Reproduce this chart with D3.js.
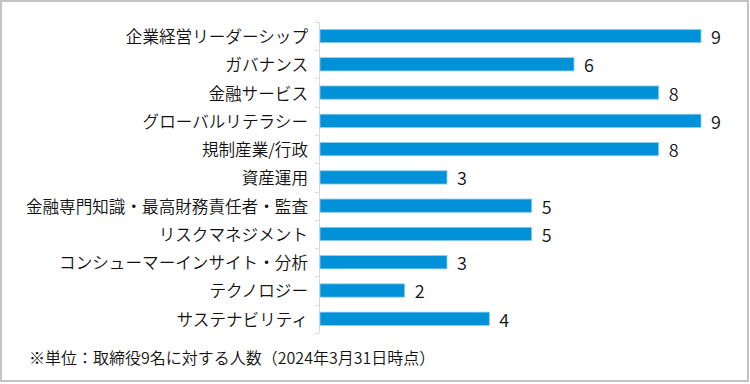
<!DOCTYPE html>
<html><head><meta charset="utf-8">
<script src="https://cdn.jsdelivr.net/npm/d3@7"></script>
<style>
html,body{margin:0;padding:0;background:#fff;}
svg{display:block;}
text{font-family:"Noto Sans CJK JP","Noto Sans",sans-serif;fill:#111;font-weight:350;}
</style></head><body>
<svg id="c" width="750" height="384"></svg>
<script>
const categories = ["企業経営リーダーシップ","ガバナンス","金融サービス","グローバルリテラシー","規制産業/行政","資産運用","金融専門知識・最高財務責任者・監査","リスクマネジメント","コンシューマーインサイト・分析","テクノロジー","サステナビリティ"];
const values = [9,6,8,9,8,3,5,5,3,2,4];
const footnote = "※単位：取締役9名に対する人数（2024年3月31日時点）";

const svg = d3.select("#c");
svg.append("rect").attr("x",1).attr("y",1).attr("width",747).attr("height",380)
  .attr("fill","#fff").attr("stroke","#c4c4c4").attr("stroke-width",2);

const x = d3.scaleLinear().domain([0,9]).range([320,701]);
const y = d3.scaleBand().domain(categories).range([21.9,332.9]).paddingInner(0.53).paddingOuter(0.265);
const step = y.step();

// axis line & ticks
svg.append("line").attr("x1",319.5).attr("x2",319.5).attr("y1",y.range()[0]).attr("y2",y.range()[1])
  .attr("stroke","#d9d9d9").attr("stroke-width",1);
const bounds = categories.map(c => y(c) - step*y.paddingInner()/2).concat([y.range()[1]]);
svg.selectAll("line.tick").data(bounds).join("line").attr("class","tick")
  .attr("x1",315).attr("x2",319.5).attr("y1",d=>Math.round(d)+0.5).attr("y2",d=>Math.round(d)+0.5)
  .attr("stroke","#d9d9d9").attr("stroke-width",1);

// bars
svg.selectAll("rect.bar").data(categories).join("rect").attr("class","bar")
  .attr("x",x(0)).attr("y",d=>y(d)).attr("width",(d,i)=>x(values[i])-x(0)).attr("height",y.bandwidth())
  .attr("fill","#0091d9").attr("stroke","#8fcdf0").attr("stroke-width",0.8);

// category labels
svg.selectAll("text.cat").data(categories).join("text").attr("class","cat")
  .attr("x",308).attr("y",d=>y(d)+y.bandwidth()/2).attr("text-anchor","end")
  .attr("dominant-baseline","central").attr("font-size",16.6).text(d=>d);

// value labels
svg.selectAll("text.val").data(values).join("text").attr("class","val")
  .attr("x",d=>x(d)+10).attr("y",(d,i)=>y(categories[i])+y.bandwidth()/2)
  .attr("dominant-baseline","central").attr("font-size",18).text(d=>d);

svg.append("text").attr("x",29).attr("y",357).attr("dominant-baseline","central")
  .attr("font-size",16).text(footnote);
</script></body></html>
